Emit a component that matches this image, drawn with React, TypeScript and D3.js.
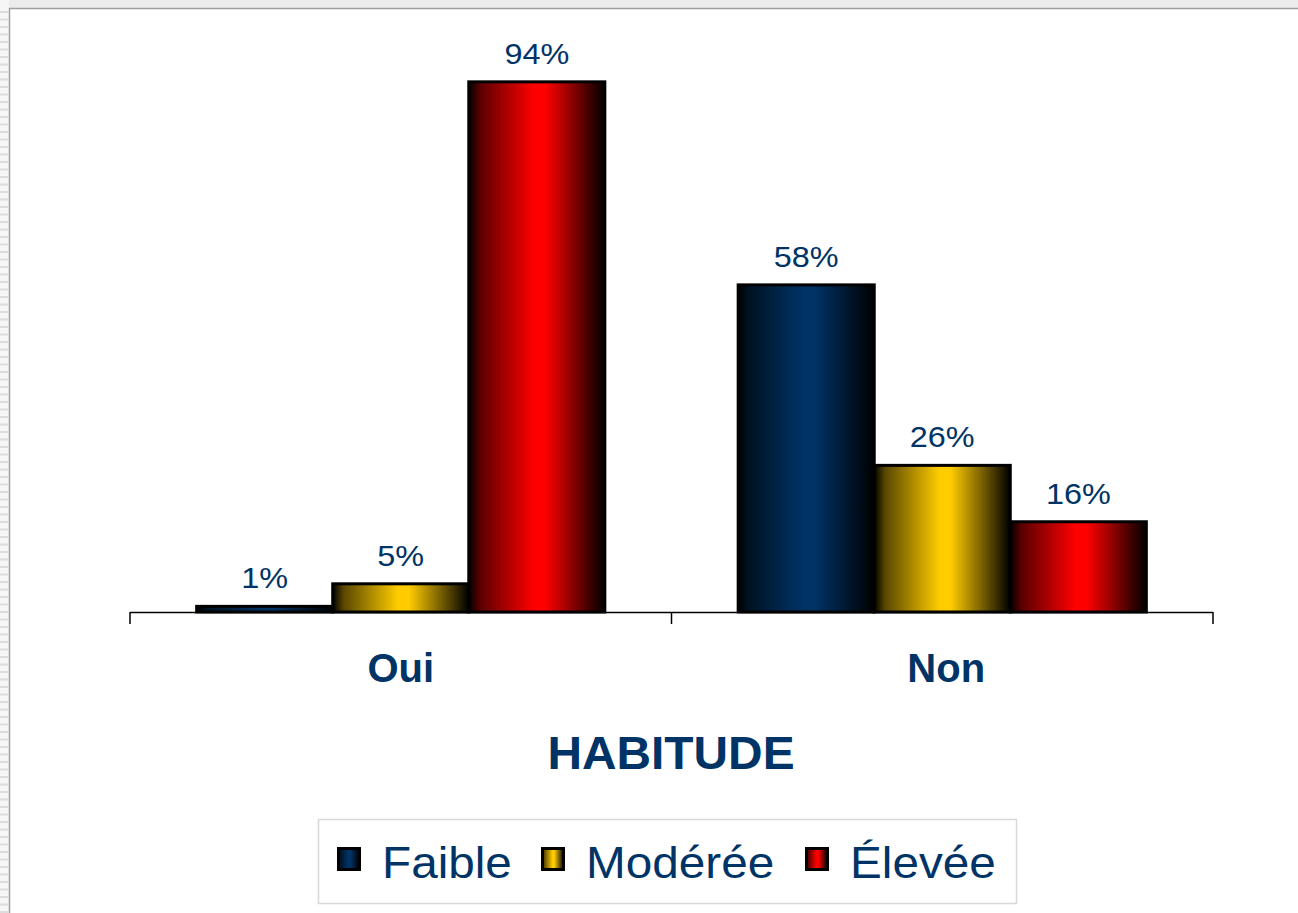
import React, { useEffect, useRef } from 'react'
import * as d3 from 'd3'

// chart data
const categories = ['Oui', 'Non']
const seriesNames = ['Faible', 'Modérée', 'Élevée']
const seriesColors = ['#003366', '#FFCC00', '#FF0000']
const faible = [1, 58]
const moderee = [5, 26]
const elevee = [94, 16]
const seriesValues = [faible, moderee, elevee]
const axisTitle = 'HABITUDE'

const textColor = '#003366'
const font = 'Arial, "Liberation Sans", sans-serif'

export default function App() {
    const svgRef = useRef<SVGSVGElement>(null)

    useEffect(() => {
        document.body.style.margin = '0'
        const w = 1298
        const h = 913
        const svg = d3.select(svgRef.current)
            .attr('width', w)
            .attr('height', h)
            .style('display', 'block')
            .style('background', 'white')
        svg.selectAll('*').remove()

        // frame decoration (slide edge)
        svg.append('rect').attr('x', 0).attr('y', 0).attr('width', w).attr('height', 8).attr('fill', '#ececec')
        svg.append('rect').attr('x', 0).attr('y', 0).attr('width', 9).attr('height', h).attr('fill', '#f6f6f6')
        for (let yy = 12; yy < h; yy += 7.5) {
            svg.append('line').attr('x1', 0).attr('x2', 8).attr('y1', yy).attr('y2', yy)
                .attr('stroke', '#dcdcdc').attr('stroke-width', 2)
        }
        svg.append('line').attr('x1', 9).attr('x2', w).attr('y1', 8.5).attr('y2', 8.5).attr('stroke', '#a0a0a0').attr('stroke-width', 1.5)
        svg.append('line').attr('x1', 9.5).attr('x2', 9.5).attr('y1', 8).attr('y2', h).attr('stroke', '#a0a0a0').attr('stroke-width', 1.5)

        // gradients
        const defs = svg.append('defs')
        seriesColors.forEach((c, i) => {
            const g = defs.append('linearGradient').attr('id', 'grad' + i)
                .attr('x1', '0%').attr('x2', '100%').attr('y1', '0%').attr('y2', '0%')
            g.append('stop').attr('offset', '0%').attr('stop-color', '#000')
            g.append('stop').attr('offset', '8%').attr('stop-color', d3.interpolateRgb('#000', c)(0.35))
            g.append('stop').attr('offset', '48%').attr('stop-color', c)
            g.append('stop').attr('offset', '56%').attr('stop-color', c)
            g.append('stop').attr('offset', '100%').attr('stop-color', '#000')
        })

        // scales
        const x0 = d3.scaleBand().domain(categories).range([130, 1213]).paddingInner(0).paddingOuter(0)
        const x1 = d3.scaleBand().domain(seriesNames).range([0, x0.bandwidth()]).paddingInner(0).paddingOuter(0.49)
        const y = d3.scaleLinear().domain([0, 100]).range([612, 48])

        // bars
        const groups = svg.append('g').selectAll('g')
            .data(categories)
            .join('g')
            .attr('transform', d => `translate(${x0(d)},0)`)

        groups.selectAll('rect')
            .data((d, ci) => seriesNames.map((s, si) => ({ s, si, v: seriesValues[si][ci] })))
            .join('rect')
            .attr('x', d => x1(d.s)!)
            .attr('width', x1.bandwidth())
            .attr('y', d => y(d.v))
            .attr('height', d => y(0) - y(d.v))
            .attr('fill', d => `url(#grad${d.si})`)
            .attr('stroke', '#000')
            .attr('stroke-width', 3)

        // value labels (text a bit wider than plain Arial in the original)
        groups.selectAll('text')
            .data((d, ci) => seriesNames.map((s, si) => ({ s, v: seriesValues[si][ci] })))
            .join('text')
            .attr('transform', d => `translate(${x1(d.s)! + x1.bandwidth() / 2},${y(d.v) - 18}) scale(1.08,1)`)
            .attr('text-anchor', 'middle')
            .attr('font-family', font)
            .attr('font-size', 30)
            .attr('fill', textColor)
            .text(d => d.v + '%')

        // x axis
        const axis = d3.axisBottom(x0).tickSize(0).tickFormat(() => '')
        const ax = svg.append('g').attr('transform', `translate(0,${y(0)})`).call(axis)
        ax.select('.domain').remove()
        ax.append('line').attr('x1', 130).attr('x2', 1213).attr('y1', 0.5).attr('y2', 0.5).attr('stroke', '#000').attr('stroke-width', 1.5)
        const edges = [130, x0('Non')!, 1213]
        edges.forEach(e => {
            ax.append('line').attr('x1', e).attr('x2', e).attr('y1', 0).attr('y2', 12).attr('stroke', '#000').attr('stroke-width', 1.5)
        })

        svg.append('g').selectAll('text')
            .data(categories)
            .join('text')
            .attr('x', d => x0(d)! + x0.bandwidth() / 2 + (d === 'Non' ? 4 : 0))
            .attr('y', 682)
            .attr('text-anchor', 'middle')
            .attr('font-family', font)
            .attr('font-weight', 'bold')
            .attr('font-size', 40)
            .attr('fill', textColor)
            .text(d => d)

        svg.append('text')
            .attr('transform', 'translate(671,769) scale(1.04,1)')
            .attr('text-anchor', 'middle')
            .attr('font-family', font)
            .attr('font-weight', 'bold')
            .attr('font-size', 46)
            .attr('fill', textColor)
            .text(axisTitle)

        // legend
        const legend = svg.append('g')
        legend.append('rect').attr('x', 318.5).attr('y', 819.5).attr('width', 698).attr('height', 84)
            .attr('fill', 'white').attr('stroke', '#d8d8d8').attr('stroke-width', 1.5)
        const legendX = [337, 541, 805]
        seriesNames.forEach((s, i) => {
            legend.append('rect').attr('x', legendX[i] + 1.5).attr('y', 848.5).attr('width', 21).attr('height', 21)
                .attr('fill', `url(#grad${i})`).attr('stroke', '#000').attr('stroke-width', 3)
            legend.append('text')
                .attr('transform', `translate(${legendX[i] + 45},878) scale(1.06,1)`)
                .attr('font-family', font)
                .attr('font-size', 45)
                .attr('fill', textColor)
                .text(s)
        })
    }, [])

    return <svg ref={svgRef}></svg>
}
